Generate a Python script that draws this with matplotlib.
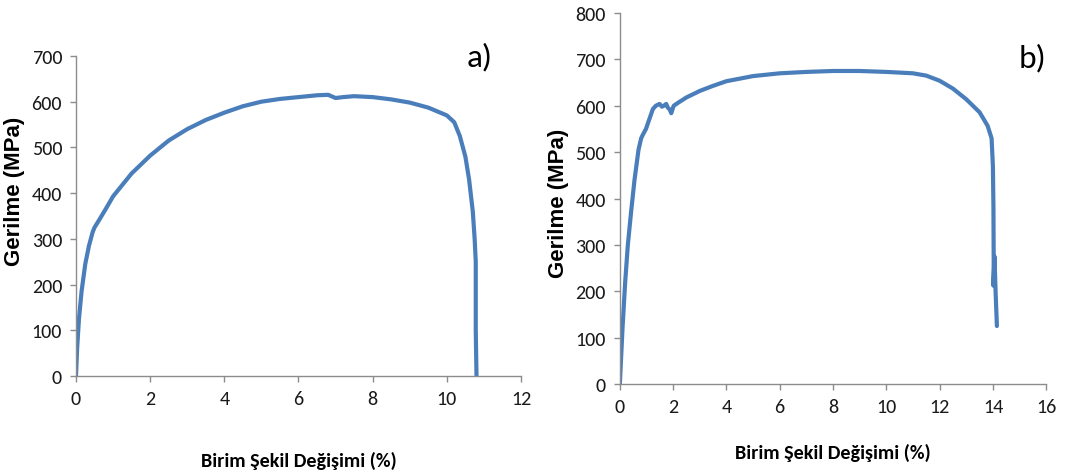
import numpy as np
import matplotlib
matplotlib.use('Agg')
import matplotlib.pyplot as plt

# panel a) stress-strain curve
strain_a = [0, 0.03, 0.08, 0.15, 0.25, 0.35, 0.45, 0.5, 0.6, 0.8, 1.0, 1.5, 2.0, 2.5, 3.0,
            3.5, 4.0, 4.5, 5.0, 5.5, 6.0, 6.5, 6.8, 7.0, 7.2, 7.5, 8.0, 8.5, 9.0,
            9.5, 10.0, 10.2, 10.35, 10.5, 10.6, 10.7, 10.75, 10.78, 10.78, 10.8]
stress_a = [0, 60, 125, 185, 245, 285, 315, 325, 338, 365, 393, 443, 482, 515, 540,
            560, 576, 590, 600, 606, 610, 614, 615, 608, 610, 612, 610, 605, 598,
            587, 570, 555, 525, 480, 430, 360, 300, 250, 100, 0]

# panel b) stress-strain curve
strain_b = [0, 0.05, 0.1, 0.2, 0.3, 0.42, 0.55, 0.7, 0.8, 0.85, 0.98, 1.1, 1.24, 1.35, 1.49,
            1.58, 1.65, 1.74, 1.8, 1.87, 1.93, 2.02, 2.2, 2.5, 3.0, 3.5, 4.0, 5.0, 6.0,
            7.0, 8.0, 9.0, 10.0, 11.0, 11.5, 12.0, 12.5, 13.0, 13.5, 13.8, 13.95, 14.0,
            14.02, 14.03, 14.02, 14.06, 14.1, 14.15]
stress_b = [0, 60, 120, 220, 300, 370, 440, 505, 530, 536, 550, 570, 593, 600, 604,
            598, 600, 604, 596, 592, 584, 600, 607, 618, 632, 643, 653, 664, 670,
            673, 675, 675, 673, 670, 665, 654, 637, 614, 586, 557, 530, 470,
            380, 260, 212, 275, 200, 125]

xticks_a = [0, 2, 4, 6, 8, 10, 12]
yticks_a = [0, 100, 200, 300, 400, 500, 600, 700]
xticks_b = [0, 2, 4, 6, 8, 10, 12, 14, 16]
yticks_b = [0, 100, 200, 300, 400, 500, 600, 700, 800]

line_color = '#4a7ebb'
narrow = ['Carlito', 'DejaVu Sans']
arial = ['Liberation Sans', 'DejaVu Sans']

fig = plt.figure(figsize=(10.78, 4.77), dpi=100)
ax_a = fig.add_axes([0.0705, 0.2096, 0.4128, 0.671])
ax_b = fig.add_axes([0.575, 0.1929, 0.3955, 0.7777])


def style(ax, xticks, yticks, label, label_xy, ylab_xy, xlab_y):
    ax.set_xlim(xticks[0], xticks[-1])
    ax.set_ylim(yticks[0], yticks[-1])
    ax.set_xticks(xticks)
    ax.set_yticks(yticks)
    for s in ['top', 'right']:
        ax.spines[s].set_visible(False)
    for s in ['left', 'bottom']:
        ax.spines[s].set_color('#8c8c8c')
        ax.spines[s].set_linewidth(1.0)
    ax.tick_params(direction='out', length=4, width=1, color='#8c8c8c',
                   labelsize=14.5, labelcolor='#1a1a1a', pad=6)
    for t in ax.get_xticklabels() + ax.get_yticklabels():
        t.set_family(narrow)
    ax.set_ylabel('Gerilme (MPa)', fontsize=16, fontweight='bold', family=arial)
    ax.yaxis.set_label_coords(*ylab_xy)
    ax.set_xlabel('Birim Şekil Değişimi (%)', fontsize=14.5, fontweight='bold',
                  family=narrow)
    ax.xaxis.set_label_coords(0.5, xlab_y)
    ax.text(label_xy[0], label_xy[1], label, transform=ax.transAxes, fontsize=24,
            family=narrow, ha='center', va='center', clip_on=False)


ax_a.plot(strain_a, stress_a, color=line_color, lw=3, solid_capstyle='round')
ax_b.plot(strain_b, stress_b, color=line_color, lw=3, solid_capstyle='round')
style(ax_a, xticks_a, yticks_a, 'a)', (0.908, 1.0), (-0.115, 0.58), -0.235)
style(ax_b, xticks_b, yticks_b, 'b)', (0.967, 0.88), (-0.12, 0.49), -0.16)

fig.savefig('out.png', dpi=100)
